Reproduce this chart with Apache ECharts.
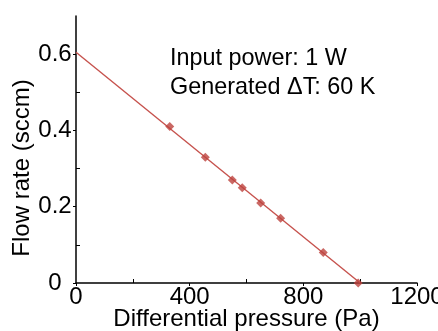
<!DOCTYPE html>
<html>
<head>
<meta charset="utf-8">
<script src="https://cdn.jsdelivr.net/npm/echarts@6/dist/echarts.min.js"></script>
<style>
  html, body { margin: 0; padding: 0; background: #fff; }
  #chart { width: 438px; height: 331px; }
</style>
</head>
<body>
<div id="chart"></div>
<script>
// measured points
const pressure = [330, 455, 550, 585, 650, 720, 870, 993];
const flow = [0.41, 0.33, 0.27, 0.25, 0.21, 0.17, 0.08, 0.0];
// linear fit
const fitX = [0, 1000];
const fitY = [0.605, 0];
const notes = ["Input power: 1 W", "Generated \u0394T: 60 K"];

const FONT = "Liberation Sans";
const red = "#c6524d";
const markRed = "#bd423d";
const black = "#000";

// axis used only for the inward minor ticks
function minorAxis(min, max, interval, pos) {
  return {
    type: "value", min, max, interval, position: pos,
    axisLine: { show: false },
    axisLabel: { show: false },
    axisTick: { show: false, inside: true },
    minorTick: { show: true, splitNumber: 2, length: 4, lineStyle: { color: black, width: 1 } },
    splitLine: { show: false }
  };
}

const chart = echarts.init(document.getElementById("chart"));
chart.setOption({
  animation: false,
  backgroundColor: "#fff",
  grid: { left: 76, right: 21, top: 16, bottom: 48, containLabel: false, outerBoundsMode: "none" },
  xAxis: [
    {
      type: "value",
      min: 0,
      max: 1200,
      interval: 400,
      position: "bottom",
      name: "Differential pressure (Pa)",
      nameLocation: "middle",
      nameGap: 24,
      nameMoveOverlap: false,
      nameTextStyle: { fontFamily: FONT, fontSize: 24, color: black },
      axisLine: { lineStyle: { color: black, width: 1.5 } },
      axisTick: { show: true, length: 3, lineStyle: { color: black, width: 1 } },
      splitLine: { show: false },
      axisLabel: { fontFamily: FONT, fontSize: 24, color: black, margin: 2, formatter: v => String(v) }
    },
    minorAxis(0, 1200, 400, "bottom")
  ],
  yAxis: [
    {
      type: "value",
      min: 0,
      max: 0.7,
      interval: 0.2,
      position: "left",
      axisLine: { show: true, lineStyle: { color: black, width: 1.5 } },
      axisTick: { show: true, length: 3, lineStyle: { color: black, width: 1 } },
      splitLine: { show: false },
      axisLabel: {
        fontFamily: FONT, fontSize: 24, color: black, margin: 21,
        align: "center",
        showMaxLabel: false,
        formatter: v => (v === 0 ? "0" : v.toFixed(1))
      }
    },
    minorAxis(0, 0.7, 0.2, "left")
  ],
  graphic: [
    {
      type: "text",
      x: 22, y: 168,
      rotation: Math.PI / 2,
      style: {
        text: "Flow rate (sccm)",
        font: "24px " + FONT,
        fill: black,
        align: "center",
        verticalAlign: "middle"
      }
    },
    {
      type: "text",
      left: 170, top: 47,
      style: { text: notes[0], font: "23.4px " + FONT, fill: black }
    },
    {
      type: "text",
      left: 170, top: 76,
      style: { text: notes[1], font: "23.4px " + FONT, fill: black }
    }
  ],
  series: [
    {
      type: "line",
      data: fitX.map((x, i) => [x, fitY[i]]),
      symbol: "none",
      lineStyle: { color: red, width: 1.4 },
      z: 2
    },
    {
      type: "scatter",
      data: pressure.map((x, i) => [x, flow[i]]),
      symbol: "diamond",
      symbolSize: 9,
      itemStyle: { color: markRed },
      clip: false,
      z: 3
    }
  ]
});
</script>
</body>
</html>
